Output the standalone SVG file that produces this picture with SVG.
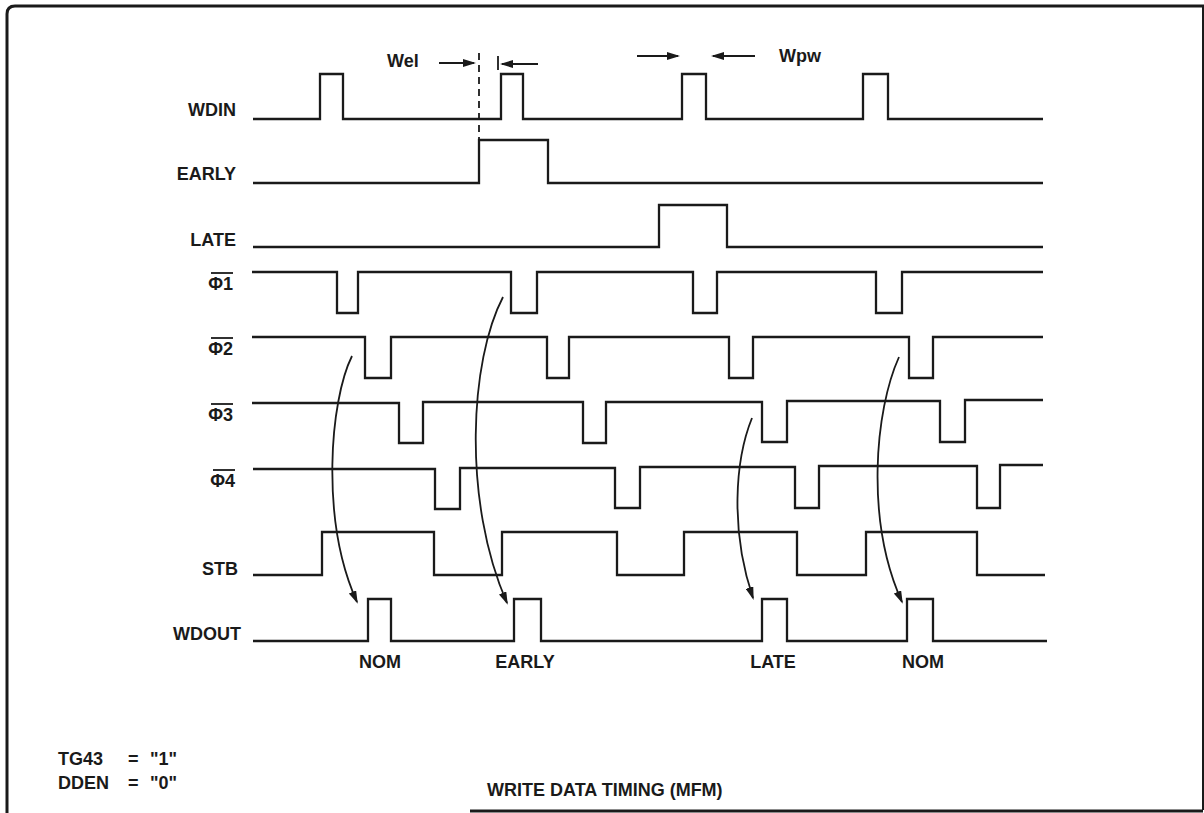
<svg xmlns="http://www.w3.org/2000/svg" width="1204" height="813" viewBox="0 0 1204 813">
<style>
.w{fill:none;stroke:#1a1a1a;stroke-width:2.3;stroke-linejoin:miter}
.a{fill:none;stroke:#1a1a1a;stroke-width:1.8}
.t{font-family:"Liberation Sans",Arial,sans-serif;font-size:18px;font-weight:bold;fill:#1a1a1a}
.ob{stroke:#1a1a1a;stroke-width:1.8}
</style>
<defs>
<marker id="ah" markerWidth="13" markerHeight="8" refX="11" refY="4" orient="auto" markerUnits="userSpaceOnUse">
<path d="M0,0 L13,4 L0,8 Z" fill="#1a1a1a"/>
</marker>
</defs>
<rect width="1204" height="813" fill="#fff"/>
<g id="frame">
<path d="M7,813 V14 Q7,6 15,6 H1204" fill="none" stroke="#1a1a1a" stroke-width="3"/>
<path d="M1203,6 V810" fill="none" stroke="#1a1a1a" stroke-width="2"/>
<path d="M470,811 H1203" fill="none" stroke="#1a1a1a" stroke-width="3"/>
</g>
<g id="wdin">
<text class="t" x="236" y="116" text-anchor="end">WDIN</text>
<path class="w" d="M253,119 H320 V74 H343 V119 H501 V74 H523 V119 H682 V74 H706 V119 H863 V74 H888 V119 H1043"/>
</g>
<g id="early">
<text class="t" x="236" y="180" text-anchor="end">EARLY</text>
<path class="w" d="M253,183 H479 V140 H548 V183 H1043"/>
</g>
<g id="late">
<text class="t" x="236" y="246" text-anchor="end">LATE</text>
<path class="w" d="M253,247 H659 V205 H727 V247 H1043"/>
</g>
<g id="phi1">
<text class="t" x="233" y="290" text-anchor="end" font-size="17">Φ1</text>
<line class="ob" x1="211" y1="273" x2="233" y2="273"/>
<path class="w" d="M252,272 H337 V313 H358 V272 H511 V313 H537 V272 H693 V313 H717 V272 H876 V313 H902 V272 H1043"/>
</g>
<g id="phi2">
<text class="t" x="233" y="355" text-anchor="end" font-size="17">Φ2</text>
<line class="ob" x1="211" y1="338" x2="233" y2="338"/>
<path class="w" d="M252,337 H365 V378 H391 V337 H547 V378 H569 V337 H729 V378 H753 V337 H909 V378 H933 V337 H1043"/>
</g>
<g id="phi3">
<text class="t" x="233" y="421" text-anchor="end" font-size="17">Φ3</text>
<line class="ob" x1="211" y1="404" x2="233" y2="404"/>
<path class="w" d="M252,403 H399 V443 H423 V402 H583 V443 H606 V402 H762 V442 H787 V401 H940 V442 H965 V400 H1043"/>
</g>
<g id="phi4">
<text class="t" x="235" y="487" text-anchor="end" font-size="17">Φ4</text>
<line class="ob" x1="213" y1="470" x2="235" y2="470"/>
<path class="w" d="M253,469 H435 V509 H460 V468 H615 V508 H640 V467 H795 V508 H819 V466 H977 V508 H1000 V465 H1043"/>
</g>
<g id="stb">
<text class="t" x="238" y="575" text-anchor="end">STB</text>
<path class="w" d="M253,575 H322 V532 H434 V575 H502 V532 H617 V575 H684 V532 H797 V575 H866 V532 H977 V575 H1045"/>
</g>
<g id="wdout">
<text class="t" x="241" y="640" text-anchor="end">WDOUT</text>
<path class="w" d="M253,641 H368 V599 H391 V641 H514 V599 H541 V641 H762 V599 H787 V641 H907 V599 H933 V641 H1047"/>
<text class="t" x="380" y="668" text-anchor="middle">NOM</text>
<text class="t" x="525" y="668" text-anchor="middle">EARLY</text>
<text class="t" x="773" y="668" text-anchor="middle">LATE</text>
<text class="t" x="923" y="668" text-anchor="middle">NOM</text>
</g>
<g id="dimensions">
<text class="t" x="387" y="67">Wel</text>
<line class="a" x1="439" y1="63" x2="474" y2="63" marker-end="url(#ah)"/>
<line class="a" x1="479" y1="53" x2="479" y2="140" stroke-dasharray="7,5"/>
<line class="a" x1="498" y1="56" x2="498" y2="70"/>
<line class="a" x1="538" y1="64" x2="502" y2="64" marker-end="url(#ah)"/>
<line class="a" x1="637" y1="56" x2="678" y2="56" marker-end="url(#ah)"/>
<line class="a" x1="755" y1="56" x2="713" y2="56" marker-end="url(#ah)"/>
<text class="t" x="779" y="62">Wpw</text>
</g>
<g id="connectors">
<path class="a" d="M352,356 C330,400 320,520 357,602" marker-end="url(#ah)"/>
<path class="a" d="M503,297 C470,360 462,500 507,603" marker-end="url(#ah)"/>
<path class="a" d="M752,418 C735,460 730,530 753,598" marker-end="url(#ah)"/>
<path class="a" d="M899,357 C875,410 865,520 902,602" marker-end="url(#ah)"/>
</g>
<g id="notes">
<text class="t" x="58" y="765">TG43</text>
<text class="t" x="128" y="765">=</text>
<text class="t" x="150" y="765">"1"</text>
<text class="t" x="58" y="789">DDEN</text>
<text class="t" x="128" y="789">=</text>
<text class="t" x="150" y="789">"0"</text>
<text class="t" x="487" y="796" font-size="19">WRITE DATA TIMING (MFM)</text>
</g>
</svg>
